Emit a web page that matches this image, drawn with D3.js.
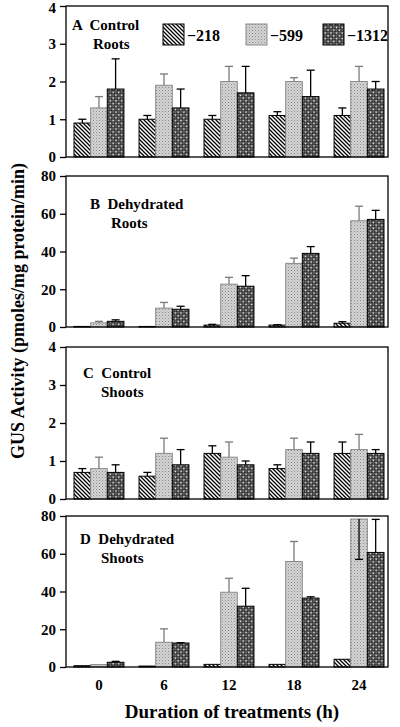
<!DOCTYPE html>
<html><head><meta charset="utf-8">
<script src="https://cdn.jsdelivr.net/npm/d3@7"></script>
<style>body{margin:0;background:#fff}svg{display:block}text{font-family:"Liberation Serif","Times New Roman",serif;font-weight:bold;fill:#000}</style>
</head><body><svg id="c" width="400" height="727"></svg>
<script>
// categories
const hours = ["0", "6", "12", "18", "24"];
const promoters = ["\u2212218", "\u2212599", "\u22121312"];
const ticksSmall = [0, 1, 2, 3, 4];
const ticksLarge = [0, 20, 40, 60, 80];
// Panel A: Control Roots (mean per promoter, by hour) and error-bar ends
const meanA = [[0.9, 1.0, 1.0, 1.1, 1.1], [1.3, 1.9, 2.0, 2.0, 2.0], [1.8, 1.3, 1.7, 1.6, 1.8]];
const errA  = [[1.0, 1.1, 1.1, 1.2, 1.3], [1.6, 2.2, 2.4, 2.1, 2.4], [2.6, 1.8, 2.4, 2.3, 2.0]];
// Panel B: Dehydrated Roots
const meanB = [[0.3, 0.3, 1.0, 1.0, 2.0], [2.2, 10.0, 22.7, 33.7, 56.3], [3.0, 9.4, 21.6, 39.0, 57.0]];
const errB  = [[0.3, 0.3, 1.4, 1.2, 2.8], [3.0, 13.0, 26.3, 36.5, 64.0], [3.8, 11.0, 27.2, 42.6, 61.8]];
// Panel C: Control Shoots
const meanC = [[0.7, 0.6, 1.2, 0.8, 1.2], [0.8, 1.2, 1.1, 1.3, 1.3], [0.7, 0.9, 0.9, 1.2, 1.2]];
const errC  = [[0.8, 0.7, 1.4, 0.9, 1.5], [1.1, 1.6, 1.5, 1.6, 1.7], [0.9, 1.3, 1.0, 1.5, 1.3]];
// Panel D: Dehydrated Shoots
const meanD = [[0.7, 0.5, 1.4, 1.4, 4.1], [1.3, 13.1, 39.6, 55.9, 78.4], [2.5, 12.7, 32.2, 36.5, 60.7]];
const errD  = [[0.7, 0.5, 1.4, 1.4, 4.1], [1.3, 20.2, 47.0, 66.5, 57.0], [3.0, 12.9, 41.7, 37.2, 78.2]];

const panels = [
  {mean: meanA, err: errA, max: 4, ticks: ticksSmall, top: 6, bottom: 157, l1: "A  Control", l2: "Roots", lx: 72, ly: 30, l2x: 93, legend: true},
  {mean: meanB, err: errB, max: 80, ticks: ticksLarge, top: 176, bottom: 327, l1: "B  Dehydrated", l2: "Roots", lx: 90, ly: 209, l2x: 111},
  {mean: meanC, err: errC, max: 4, ticks: ticksSmall, top: 347, bottom: 499, l1: "C  Control", l2: "Shoots", lx: 83, ly: 378, l2x: 101},
  {mean: meanD, err: errD, max: 80, ticks: ticksLarge, top: 516, bottom: 667, l1: "D  Dehydrated", l2: "Shoots", lx: 80, ly: 544, l2x: 101}
];

const svg = d3.select("#c");
const defs = svg.append("defs");
// hatch pattern
const p0 = defs.append("pattern").attr("id", "pat0").attr("patternUnits", "userSpaceOnUse").attr("width", 4).attr("height", 4);
p0.append("rect").attr("width", 4).attr("height", 4).attr("fill", "#fff");
p0.append("path").attr("d", "M-1,-1L5,5M-1,3L1,5M3,-1L5,1").attr("stroke", "#000").attr("stroke-width", 1.3);
// light stipple
const p1 = defs.append("pattern").attr("id", "pat1").attr("patternUnits", "userSpaceOnUse").attr("width", 3).attr("height", 3);
p1.append("rect").attr("width", 3).attr("height", 3).attr("fill", "#d4d4d4");
p1.append("rect").attr("x", 0).attr("y", 0).attr("width", 1).attr("height", 1).attr("fill", "#8a8a8a");
p1.append("rect").attr("x", 1.5).attr("y", 1.5).attr("width", 1).attr("height", 1).attr("fill", "#a8a8a8");
// dark diamond checker
const p2 = defs.append("pattern").attr("id", "pat2").attr("patternUnits", "userSpaceOnUse").attr("width", 4).attr("height", 4)
  .attr("patternTransform", "rotate(45)");
p2.append("rect").attr("width", 4).attr("height", 4).attr("fill", "#2e2e2e");
p2.append("rect").attr("x", 0.5).attr("y", 0.5).attr("width", 1.6).attr("height", 1.6).attr("fill", "#fff");
p2.append("rect").attr("x", 2.5).attr("y", 2.5).attr("width", 1.2).attr("height", 1.2).attr("fill", "#bbb");
const fills = ["url(#pat0)", "url(#pat1)", "url(#pat2)"];
const strokes = ["#000", "#8c8c8c", "#000"];
const errColors = ["#000", "#7a7a7a", "#000"];

const x = d3.scaleBand().domain(hours).range([74, 384]).paddingInner(0.232).paddingOuter(0);
const xs = d3.scaleBand().domain(d3.range(promoters.length)).range([0, x.bandwidth()]);
const L = 66, R = 388;

panels.forEach(p => {
  const y = d3.scaleLinear().domain([0, p.max]).range([p.bottom, p.top]);
  const g = svg.append("g");
  // bars
  p.mean.forEach((vals, si) => {
    vals.forEach((v, gi) => {
      const bx = x(hours[gi]) + xs(si);
      g.append("rect").attr("x", bx).attr("y", y(v)).attr("width", xs.bandwidth()).attr("height", y(0) - y(v))
        .attr("fill", fills[si]).attr("stroke", strokes[si]).attr("stroke-width", 1);
      const e = p.err[si][gi];
      if (Math.abs(e - v) > 0.001) {
        const cx = bx + xs.bandwidth() / 2;
        const col = e < v ? "#000" : errColors[si];
        g.append("line").attr("x1", cx).attr("x2", cx).attr("y1", y(v)).attr("y2", y(e)).attr("stroke", col).attr("stroke-width", 1.3);
        g.append("line").attr("x1", cx - 4).attr("x2", cx + 4).attr("y1", y(e)).attr("y2", y(e)).attr("stroke", col).attr("stroke-width", 1.3);
      }
    });
  });
  // frame
  g.append("rect").attr("x", L).attr("y", p.top).attr("width", R - L).attr("height", p.bottom - p.top)
    .attr("fill", "none").attr("stroke", "#000").attr("stroke-width", 1.3);
  // y axis
  const ax = g.append("g").attr("transform", `translate(${L},0)`)
    .call(d3.axisLeft(y).tickValues(p.ticks).tickSize(6).tickPadding(4).tickFormat(d3.format("d")));
  ax.select(".domain").remove();
  ax.selectAll("line").attr("stroke-width", 1.3);
  ax.selectAll("text").style("font-size", "15px").style("font-family", "Liberation Serif").style("font-weight", "bold")
    .attr("dy", d => d === p.max && p.top < 10 ? "0.42em" : "0.32em");
  // labels
  g.append("text").attr("x", p.lx).attr("y", p.ly).style("font-size", "15px").attr("xml:space", "preserve").text(p.l1);
  g.append("text").attr("x", p.l2x).attr("y", p.ly + 19).style("font-size", "15px").text(p.l2);
  if (p.legend) {
    const lx = [163, 246, 323];
    promoters.forEach((name, i) => {
      g.append("rect").attr("x", lx[i]).attr("y", 24).attr("width", 21).attr("height", 21)
        .attr("fill", fills[i]).attr("stroke", strokes[i]).attr("stroke-width", 1);
      g.append("text").attr("x", lx[i] + 24).attr("y", 41).style("font-size", "16px").text(name);
    });
  }
});

// x tick labels
svg.append("g").attr("transform", "translate(0,667)")
  .call(d3.axisBottom(x).tickSize(0).tickPadding(12))
  .call(a => a.select(".domain").remove())
  .selectAll("text").style("font-size", "15px").style("font-family", "Liberation Serif").style("font-weight", "bold");

svg.append("text").attr("x", 232).attr("y", 718).attr("text-anchor", "middle").style("font-size", "19px")
  .text("Duration of treatments (h)");
svg.append("text").attr("transform", "translate(24,311) rotate(-90)").attr("text-anchor", "middle").style("font-size", "18px")
  .text("GUS Activity (pmoles/mg protein/min)");
</script></body></html>
